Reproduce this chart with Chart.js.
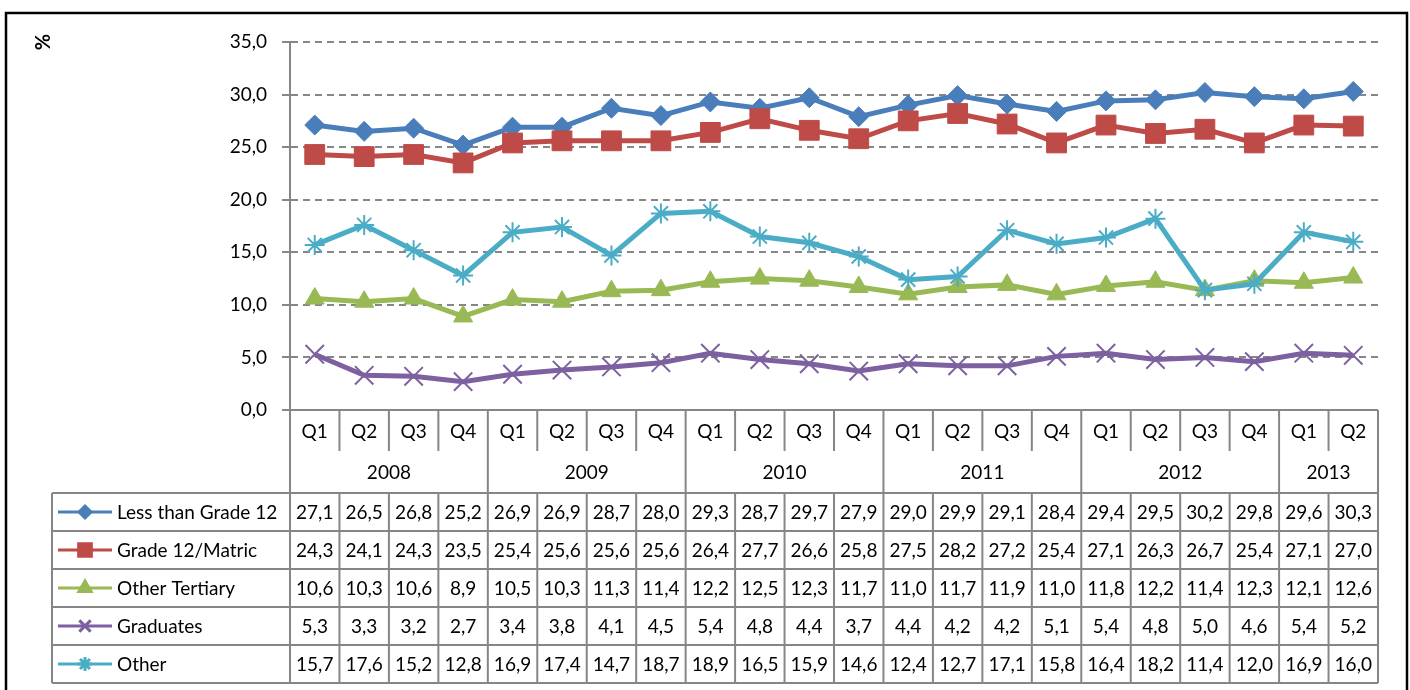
<!DOCTYPE html>
<html>
<head>
<meta charset="utf-8">
<script src="https://cdn.jsdelivr.net/npm/chart.js@4/dist/chart.umd.min.js"></script>
<style>
  html, body { margin: 0; padding: 0; background: #fff; }
  canvas { display: block; }
</style>
</head>
<body>
<canvas id="chart" width="1410" height="690"></canvas>
<script>
// categories
const quarterLabels = ['Q1','Q2','Q3','Q4','Q1','Q2','Q3','Q4','Q1','Q2','Q3','Q4','Q1','Q2','Q3','Q4','Q1','Q2','Q3','Q4','Q1','Q2'];
const yearLabels = ['2008','2008','2008','2008','2009','2009','2009','2009','2010','2010','2010','2010',
                    '2011','2011','2011','2011','2012','2012','2012','2012','2013','2013'];

// series values (%)
const lessThanGrade12 = [27.1,26.5,26.8,25.2,26.9,26.9,28.7,28.0,29.3,28.7,29.7,27.9,29.0,29.9,29.1,28.4,29.4,29.5,30.2,29.8,29.6,30.3];
const grade12Matric   = [24.3,24.1,24.3,23.5,25.4,25.6,25.6,25.6,26.4,27.7,26.6,25.8,27.5,28.2,27.2,25.4,27.1,26.3,26.7,25.4,27.1,27.0];
const otherTertiary   = [10.6,10.3,10.6,8.9,10.5,10.3,11.3,11.4,12.2,12.5,12.3,11.7,11.0,11.7,11.9,11.0,11.8,12.2,11.4,12.3,12.1,12.6];
const graduates       = [5.3,3.3,3.2,2.7,3.4,3.8,4.1,4.5,5.4,4.8,4.4,3.7,4.4,4.2,4.2,5.1,5.4,4.8,5.0,4.6,5.4,5.2];
const other           = [15.7,17.6,15.2,12.8,16.9,17.4,14.7,18.7,18.9,16.5,15.9,14.6,12.4,12.7,17.1,15.8,16.4,18.2,11.4,12.0,16.9,16.0];

// y axis
const yMin = 0, yMax = 35, yStep = 5;
const yTitle = '%';

const FONT = 'Lato, "DejaVu Sans", sans-serif';
const GRID = '#868686';
const fmt = v => v.toFixed(1).replace('.', ',');

const series = [
  { label: 'Less than Grade 12', data: lessThanGrade12, color: '#4a7ebb', style: 'rectRot', r: 10, lr: 6 },
  { label: 'Grade 12/Matric', data: grade12Matric, color: '#be4b48', style: 'rect', r: 14, lr: 9 },
  { label: 'Other Tertiary', data: otherTertiary, color: '#98b954', style: 'triangle', r: 11, lr: 7 },
  { label: 'Graduates', data: graduates, color: '#7d60a0', style: 'crossRot', r: 13, lr: 8 },
  { label: 'Other', data: other, color: '#4bacc6', style: 'star', r: 10, lr: 7 }
];

// draws the frame, the category rows, the data table and its legend
const tablePlugin = {
  id: 'tablePlugin',
  afterDraw(chart) {
    const ctx = chart.ctx;
    const xs = chart.scales.x;
    const area = chart.chartArea;
    const n = quarterLabels.length;
    const w = (area.right - area.left) / n;
    const left = area.left, right = area.right;
    const qTop = area.bottom, qBot = 451, yBot = 493;
    const rowH = 38;
    const legLeft = 52;
    const tBot = yBot + rowH * series.length;

    ctx.save();
    // outer frame
    ctx.strokeStyle = '#000';
    ctx.lineWidth = 2.5;
    ctx.strokeRect(6, 13, 1401, 700);

    // % title
    ctx.save();
    ctx.translate(44, 42);
    ctx.rotate(-Math.PI / 2);
    ctx.fillStyle = '#000';
    ctx.font = 'bold 20px ' + FONT;
    ctx.textAlign = 'center';
    ctx.textBaseline = 'middle';
    ctx.fillText(yTitle, 0, 0);
    ctx.restore();

    ctx.strokeStyle = GRID;
    ctx.lineWidth = 2;
    const line = (x1, y1, x2, y2) => { ctx.beginPath(); ctx.moveTo(x1, y1); ctx.lineTo(x2, y2); ctx.stroke(); };

    // category rows
    line(left, qTop, right, qTop);
    line(left, yBot, right, yBot);
    for (let i = 0; i <= n; i++) {
      const x = left + i * w;
      const yearEdge = i === 0 || i === n || yearLabels[i] !== yearLabels[i - 1];
      line(x, qTop, x, yearEdge ? yBot : qBot);
    }
    ctx.fillStyle = '#000';
    ctx.font = '19px ' + FONT;
    ctx.textAlign = 'center';
    ctx.textBaseline = 'middle';
    quarterLabels.forEach((q, i) => ctx.fillText(q, xs.getPixelForValue(i), (qTop + qBot) / 2 + 1));
    let start = 0;
    for (let i = 1; i <= n; i++) {
      if (i === n || yearLabels[i] !== yearLabels[start]) {
        const cx = (xs.getPixelForValue(start) + xs.getPixelForValue(i - 1)) / 2;
        ctx.fillText(yearLabels[start], cx, (qBot + yBot) / 2 + 1);
        start = i;
      }
    }

    // data table grid
    for (let r = 0; r <= series.length; r++) line(legLeft, yBot + r * rowH, right, yBot + r * rowH);
    line(legLeft, yBot, legLeft, tBot);
    for (let i = 0; i <= n; i++) line(left + i * w, yBot, left + i * w, tBot);

    // rows
    series.forEach((s, r) => {
      const cy = yBot + r * rowH + rowH / 2;
      ctx.strokeStyle = s.color;
      ctx.fillStyle = s.color;
      ctx.lineWidth = 3;
      line(58, cy, 112, cy);
      Chart.helpers.drawPoint(ctx, { pointStyle: s.style, radius: s.lr, rotation: 0, borderWidth: 2 }, 85, cy);
      ctx.fillStyle = '#000';
      ctx.textAlign = 'left';
      ctx.fillText(s.label, 117, cy + 1);
      ctx.textAlign = 'center';
      s.data.forEach((v, i) => ctx.fillText(fmt(v), xs.getPixelForValue(i), cy + 1));
    });
    ctx.restore();
  }
};

new Chart(document.getElementById('chart'), {
  type: 'line',
  data: {
    labels: quarterLabels,
    datasets: series.map((s, i) => ({
      label: s.label,
      data: s.data,
      borderColor: s.color,
      backgroundColor: s.color,
      borderWidth: 5,
      pointStyle: s.style,
      pointRadius: s.r,
      pointHoverRadius: s.r,
      pointBackgroundColor: s.color,
      pointBorderColor: s.color,
      pointBorderWidth: (s.style === 'crossRot' || s.style === 'star') ? 2 : 1,
      tension: 0,
      order: series.length - i
    }))
  },
  options: {
    responsive: false,
    devicePixelRatio: 1,
    animation: false,
    layout: { padding: { left: 0, top: 42, right: 32, bottom: 280 } },
    plugins: { legend: { display: false }, tooltip: { enabled: false } },
    scales: {
      x: { type: 'category', offset: true, display: false },
      y: {
        min: yMin, max: yMax,
        afterFit(scale) { scale.width = 290; },
        ticks: {
          stepSize: yStep,
          padding: 15,
          color: '#000',
          font: { family: FONT, size: 19 },
          callback: v => fmt(v)
        },
        grid: { color: GRID, lineWidth: 2, tickLength: 8 },
        border: { display: true, color: GRID, width: 2, dash: [7, 5] }
      }
    }
  },
  plugins: [tablePlugin]
});
</script>
</body>
</html>
